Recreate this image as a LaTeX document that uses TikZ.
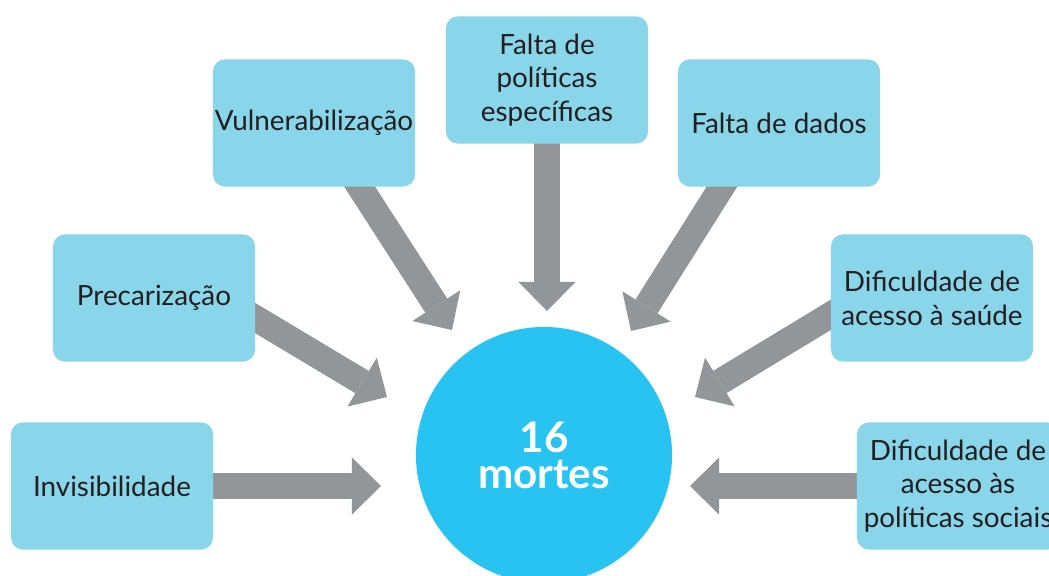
\documentclass[tikz,border=0pt]{standalone}
\usepackage{fontspec}
\setmainfont{Lato}
\usetikzlibrary{arrows.meta,backgrounds,calc}
\definecolor{boxblue}{HTML}{89D5E9}
\definecolor{circblue}{HTML}{28C3F1}
\definecolor{arrgray}{HTML}{939598}
\definecolor{txt}{HTML}{231F20}

\begin{document}
\begin{tikzpicture}[x=0.025cm, y=-0.025cm,
      box/.style={fill=boxblue, rounded corners=0.3cm, minimum width=5.05cm,
                  minimum height=3.18cm, inner sep=0pt, align=center, text=txt,
                  font=\fontsize{19.8}{24}\selectfont},
      arr/.style={draw=arrgray, line width=0.65cm,
                  -{Triangle[width=1.425cm, length=0.725cm, line width=0pt]}}
    ]
      \useasboundingbox (0,0) rectangle (1049,576);
      \node[circle, fill=circblue, minimum size=6.4cm, text=white, align=center,
            font=\fontsize{30}{25.5}\selectfont\bfseries] (mortes) at (544,455) {16\\mortes};
      \node[box] (inv)   at (112,486) {Invisibilidade};
      \node[box] (prec)  at (154,298) {Precarização};
      \node[box] (vul)   at (314,123) {Vulnerabilização};
      \node[box] (pol)   at (547,80)  {Falta de\\políticas\\específicas};
      \node[box] (dados) at (779,123) {Falta de dados};
      \node[box] (saude) at (932,298) {Dificuldade de\\acesso à saúde};
      \node[box] (soc)   at (958,486) {Dificuldade de\\acesso às\\políticas sociais};
      \coordinate (t1) at (381,486);
      \coordinate (t2) at (387,397);
      \coordinate (t3) at (452,330);
      \coordinate (t4) at (547,311);
      \coordinate (t5) at (631,331);
      \coordinate (t6) at (695,397);
      \coordinate (t7) at (690,486);
      \begin{scope}[on background layer]
        \draw[arr] (inv.center) -- (t1);
        \draw[arr] ($(prec.center)+(46,-13)$) -- (t2);
        \draw[arr] ($(vul.center)+(22,27)$) -- (t3);
        \draw[arr] (pol.center) -- (t4);
        \draw[arr] ($(dados.center)+(-34,27)$) -- (t5);
        \draw[arr] ($(saude.center)+(-47,-16)$) -- (t6);
        \draw[arr] (soc.center) -- (t7);
      \end{scope}
    \end{tikzpicture}
\end{document}
